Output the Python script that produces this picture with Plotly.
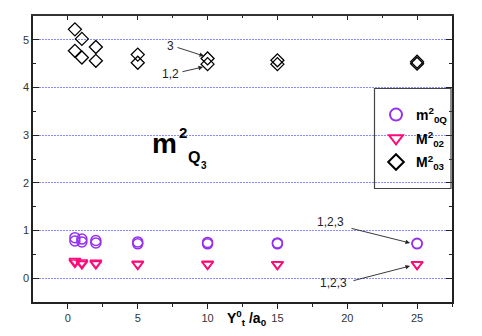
import plotly.graph_objects as go

# ---- data ----
x_vals = [0.5, 1, 2, 5, 10, 15, 25]
m0Q_upper = [0.85, 0.82, 0.79, 0.76, 0.75, 0.74, 0.73]
m0Q_lower = [0.78, 0.76, 0.74, 0.72, 0.72, 0.72, 0.72]
M02_upper = [0.36, 0.33, 0.32, 0.30, 0.30, 0.29, 0.29]
M02_lower = [0.33, 0.30, 0.30, 0.29, 0.29, 0.29, 0.29]
M03_s3 = [5.22, 5.02, 4.85, 4.69, 4.61, 4.57, 4.54]
M03_s12 = [4.77, 4.63, 4.56, 4.52, 4.49, 4.49, 4.50]
x_ticks = [0, 5, 10, 15, 20, 25]
y_ticks = [0, 1, 2, 3, 4, 5]

W, H = 482, 336
ML, MR, MT, MB = 33, 30, 16, 34
PW, PH = W - ML - MR, H - MT - MB


def px(xp):
    return (xp - ML) / PW


def py(yp):
    return 1 - (yp - MT) / PH


PURPLE = "#9430F0"
PINK = "#FF0A7A"
BLACK = "#000000"

fig = go.Figure()

series = [
    ("<b>m<sup>2</sup><sub>0Q</sub></b>", m0Q_upper, m0Q_lower, "circle-open", PURPLE, 10, 1.5),
    ("<b>M<sup>2</sup><sub>02</sub></b>", M02_upper, M02_lower, "triangle-down-open", PINK, 10, 1.6),
    ("<b>M<sup>2</sup><sub>03</sub></b>", M03_s3, M03_s12, "diamond-open", BLACK, 10, 1.3),
]
for name, a, b, sym, col, sz, lw in series:
    fig.add_trace(go.Scatter(
        x=x_vals + x_vals, y=a + b, mode="markers", name=name, legendgroup=name,
        marker=dict(symbol=sym, size=sz, color=col, line=dict(width=lw, color=col)),
    ))

# mirrored top axis for inside ticks
fig.add_trace(go.Scatter(x=[None], y=[None], xaxis="x2", showlegend=False))

axis_font = dict(family="Liberation Sans, Arial", size=11, color="#333333")
fig.update_layout(
    width=W, height=H,
    margin=dict(l=ML, r=MR, t=MT, b=MB),
    paper_bgcolor="white", plot_bgcolor="white",
    xaxis=dict(range=[-2.5, 27.5], tickvals=x_ticks, ticks="outside", ticklen=5,
               tickwidth=1.2, tickcolor="#222", showgrid=False, zeroline=False,
               showline=True, linecolor="#222", linewidth=1.5, tickfont=axis_font,
               minor=dict(tickvals=[2.5, 7.5, 12.5, 17.5, 22.5, 27.5], ticks="outside",
                          ticklen=3, tickcolor="#222")),
    xaxis2=dict(range=[-2.5, 27.5], overlaying="x", side="top", tickvals=x_ticks,
                ticks="inside", ticklen=4, tickcolor="#222", showticklabels=False,
                showgrid=False, zeroline=False, showline=True, linecolor="#333",
                linewidth=2,
                minor=dict(tickvals=[2.5, 7.5, 12.5, 17.5, 22.5], ticks="inside",
                           ticklen=2, tickcolor="#222")),
    yaxis=dict(range=[-0.5, 5.5], tickvals=y_ticks, ticks="inside", ticklen=6,
               tickwidth=1.2, tickcolor="#222", showgrid=True, gridcolor="#8c8cff",
               griddash="2px,1px", gridwidth=1, zeroline=False, showline=True,
               linecolor="#222", linewidth=1.5, mirror="ticks", tickfont=axis_font,
               minor=dict(tickvals=[-0.5, 0.5, 1.5, 2.5, 3.5, 4.5], ticks="inside",
                          ticklen=3, tickcolor="#222")),
    showlegend=True,
    legend=dict(x=px(376), y=py(99), xanchor="left", yanchor="top",
                bgcolor="rgba(0,0,0,0)", borderwidth=0, itemsizing="constant",
                font=dict(family="Liberation Sans, Arial", size=14, color="black"),
                itemwidth=30, tracegroupgap=2.5),
    font=dict(family="Liberation Sans, Arial"),
)

# legend frame
fig.add_shape(type="rect", xref="paper", yref="paper",
              x0=px(374.5), x1=px(451), y0=py(188.5), y1=py(88.5),
              line=dict(color="#444", width=1.2), fillcolor="rgba(0,0,0,0)")

# big label m^2 Q3
big = [
    ("<b>m</b>", 164, 143, 28),
    ("<b>2</b>", 183, 132, 15),
    ("<b>Q</b>", 194, 157, 16),
    ("<b>3</b>", 204, 165, 10),
]
for t, xx, yy, s in big:
    fig.add_annotation(text=t, x=px(xx), y=py(yy), xref="paper", yref="paper",
                       showarrow=False, xanchor="center", yanchor="middle",
                       font=dict(family="Liberation Sans, Arial", size=s, color="black"))

# axis title
fig.add_annotation(text="<b>Y<sup>0</sup><sub>t</sub> /a<sub>0</sub></b>",
                   x=px(247), y=py(318), xref="paper", yref="paper", showarrow=False,
                   xanchor="center", yanchor="middle",
                   font=dict(family="Liberation Sans, Arial", size=14, color="black"))

# callout labels
labels = [
    ("3", 170, 46),
    ("1,2", 170, 74),
    ("1,2,3", 330, 222),
    ("1,2,3", 333, 283),
]
for t, xx, yy in labels:
    fig.add_annotation(text=t, x=px(xx), y=py(yy), xref="paper", yref="paper",
                       showarrow=False, xanchor="center", yanchor="middle",
                       font=dict(family="Liberation Sans, Arial", size=12, color="#222"))

arrows = [
    (176, 47, 204, 56),
    (181, 72, 203, 67),
    (350, 228, 410, 243),
    (352, 281, 410, 266),
]
for x0, y0, x1, y1 in arrows:
    fig.add_annotation(text="", x=px(x1), y=py(y1), ax=px(x0), ay=py(y0),
                       xref="x domain", yref="y domain",
                       axref="x domain", ayref="y domain",
                       showarrow=True, arrowhead=2, arrowsize=1, arrowwidth=0.9,
                       arrowcolor="#222", standoff=0, startstandoff=0)

fig.write_html("out.html", config={"displayModeBar": False},
               post_script="document.body.style.margin='0';document.body.style.overflow='hidden';")
